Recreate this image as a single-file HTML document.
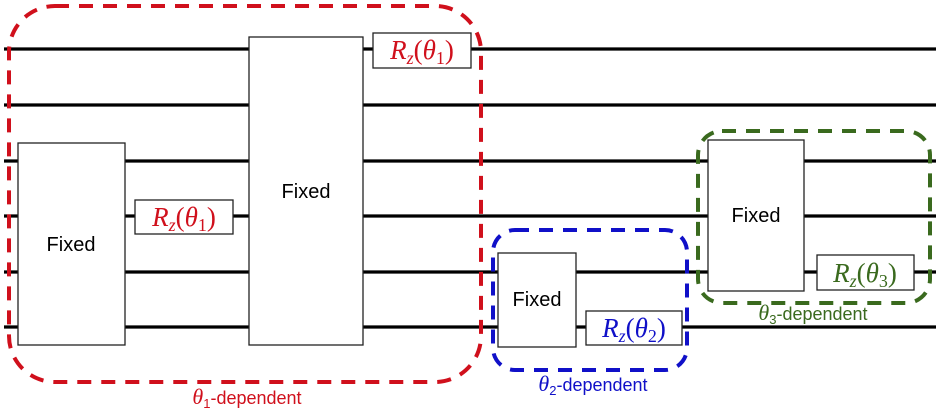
<!DOCTYPE html>
<html><head><meta charset="utf-8"><style>html,body{margin:0;padding:0;background:#fff;}svg{display:block}</style></head>
<body>
<svg width="940" height="415" viewBox="0 0 940 415" xmlns="http://www.w3.org/2000/svg">
<g stroke="#000" stroke-width="3.2">
<line x1="4" y1="49" x2="936" y2="49"/>
<line x1="4" y1="105" x2="936" y2="105"/>
<line x1="4" y1="161" x2="936" y2="161"/>
<line x1="4" y1="216" x2="936" y2="216"/>
<line x1="4" y1="272" x2="936" y2="272"/>
<line x1="4" y1="327" x2="936" y2="327"/>
</g>
<g fill="#fff" stroke="#222" stroke-width="1.3">
<rect x="18" y="143" width="107" height="202"/>
<rect x="249" y="37" width="114" height="308"/>
<rect x="135" y="200" width="98" height="34"/>
<rect x="373" y="33" width="98" height="35"/>
<rect x="498" y="253" width="78" height="94"/>
<rect x="586" y="311" width="96" height="34"/>
<rect x="708" y="140" width="96" height="151"/>
<rect x="817" y="255" width="97" height="35"/>
</g>
<g font-family="Liberation Sans, sans-serif" font-size="20" text-anchor="middle" fill="#000">
<text x="71" y="251">Fixed</text>
<text x="306" y="198">Fixed</text>
<text x="537" y="306">Fixed</text>
<text x="756" y="222">Fixed</text>
</g>
<g font-family="Liberation Serif, serif" font-size="27" text-anchor="middle">
<text x="184" y="226" fill="#d0101c"><tspan font-style="italic">R<tspan font-size="18" dy="5">z</tspan></tspan><tspan dy="-5">(</tspan><tspan font-style="italic">θ</tspan><tspan font-size="18" dy="5">1</tspan><tspan dy="-5">)</tspan></text>
<text x="422" y="59" fill="#d0101c"><tspan font-style="italic">R<tspan font-size="18" dy="5">z</tspan></tspan><tspan dy="-5">(</tspan><tspan font-style="italic">θ</tspan><tspan font-size="18" dy="5">1</tspan><tspan dy="-5">)</tspan></text>
<text x="634" y="337" fill="#1010c8"><tspan font-style="italic">R<tspan font-size="18" dy="5">z</tspan></tspan><tspan dy="-5">(</tspan><tspan font-style="italic">θ</tspan><tspan font-size="18" dy="5">2</tspan><tspan dy="-5">)</tspan></text>
<text x="865" y="282" fill="#3a6a1e"><tspan font-style="italic">R<tspan font-size="18" dy="5">z</tspan></tspan><tspan dy="-5">(</tspan><tspan font-style="italic">θ</tspan><tspan font-size="18" dy="5">3</tspan><tspan dy="-5">)</tspan></text>
</g>
<g fill="none" stroke-width="4" stroke-dasharray="14,10">
<rect x="9" y="6" width="472" height="376" rx="46" stroke="#d0101c"/>
<rect x="493" y="230" width="194" height="140" rx="22" stroke="#1010c8"/>
<rect x="698" y="131" width="232" height="172" rx="24" stroke="#3a6a1e"/>
</g>
<g font-family="Liberation Sans, sans-serif" font-size="18" text-anchor="middle">
<text x="247" y="404" fill="#d0101c"><tspan font-family="Liberation Serif, serif" font-style="italic" font-size="22">θ</tspan><tspan font-size="13" dy="4">1</tspan><tspan dy="-4">-dependent</tspan></text>
<text x="593" y="391" fill="#1010c8"><tspan font-family="Liberation Serif, serif" font-style="italic" font-size="22">θ</tspan><tspan font-size="13" dy="4">2</tspan><tspan dy="-4">-dependent</tspan></text>
<text x="813" y="320" fill="#3a6a1e"><tspan font-family="Liberation Serif, serif" font-style="italic" font-size="22">θ</tspan><tspan font-size="13" dy="4">3</tspan><tspan dy="-4">-dependent</tspan></text>
</g>
</svg>
</body></html>
